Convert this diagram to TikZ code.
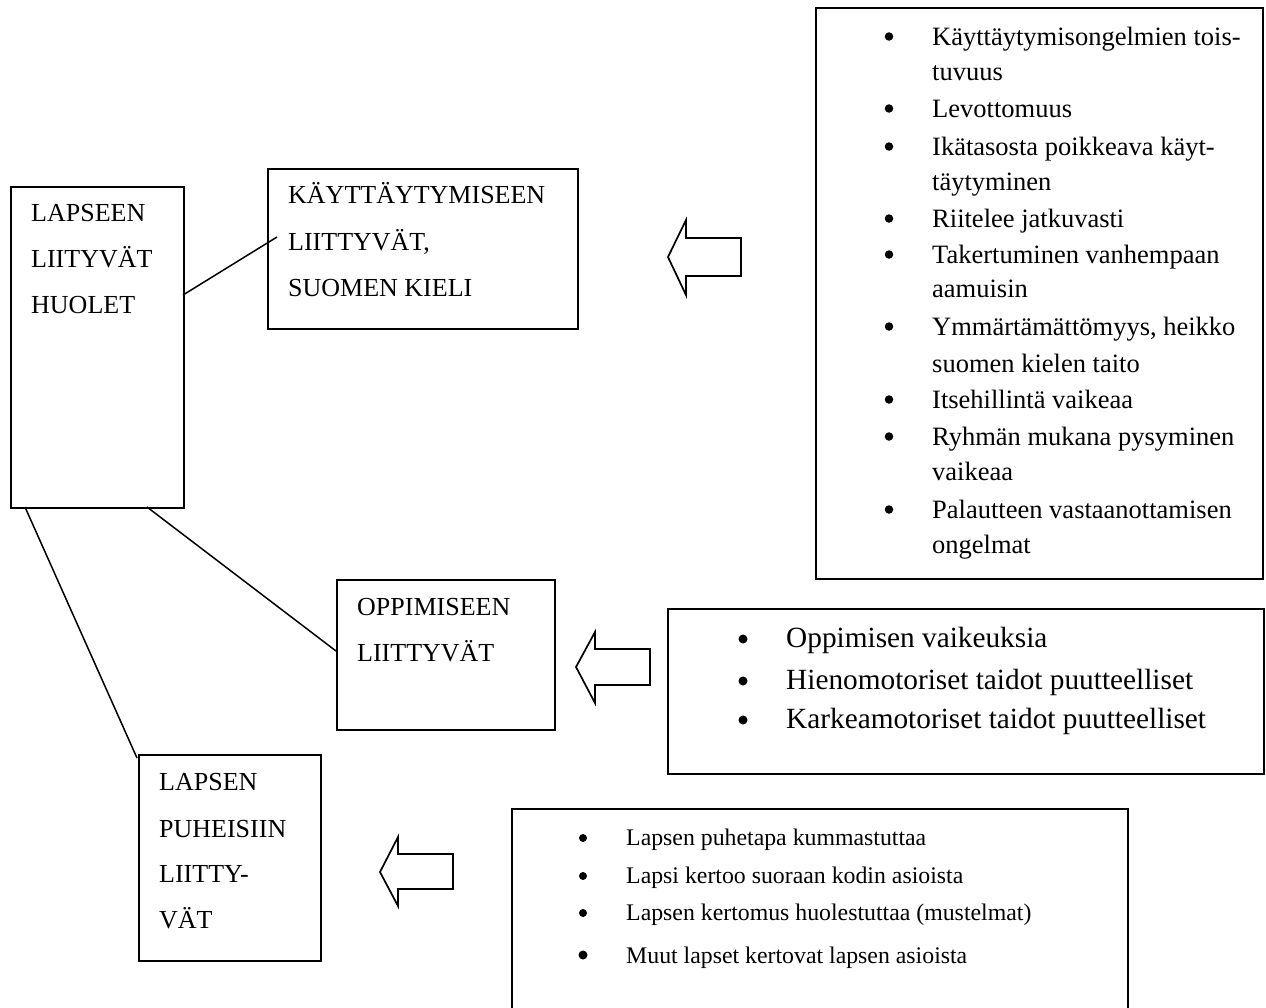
\documentclass[tikz,border=0pt]{standalone}
\usepackage{fontspec}
\setmainfont{Liberation Serif}
\begin{document}
\begin{tikzpicture}[x=1pt,y=-1pt,
  box/.style={draw, line width=1.7pt, inner sep=0pt, anchor=north west},
  conn/.style={line width=1.5pt},
  bigarrow/.style={draw, line width=1.7pt, line join=miter},
  capt/.style={anchor=base west, inner sep=0pt, font=\fontsize{26}{30}\selectfont},
  itemA/.style={anchor=base west, inner sep=0pt, font=\fontsize{26.5}{30}\selectfont},
  itemB/.style={anchor=base west, inner sep=0pt, font=\fontsize{29.3}{34}\selectfont},
  itemC/.style={anchor=base west, inner sep=0pt, font=\fontsize{23.8}{28}\selectfont},
  dot/.style={circle, fill=black, inner sep=0pt, minimum size=#1},
  dot/.default=8.5pt]
\clip (0,0) rectangle (1266,1007);
\fill[white] (0,0) rectangle (1266,1007);

% boxes
\node[box, minimum width=173pt, minimum height=321pt] (main) at (10,186) {};
\node[box, minimum width=310pt, minimum height=160pt] (kbox) at (267,168) {};
\node[box, minimum width=218pt, minimum height=150pt] (obox) at (336,579) {};
\node[box, minimum width=182pt, minimum height=206pt] (pbox) at (138,754) {};
\node[box, minimum width=447pt, minimum height=571pt] (rbox1) at (815,7) {};
\node[box, minimum width=596pt, minimum height=165pt] (rbox2) at (667,608) {};
\node[box, minimum width=616pt, minimum height=260pt] (rbox3) at (511,808) {};

% captions
\node[capt] (m1) at (31,221) {LAPSEEN};
\node[capt] (m2) at (31,267) {LIITYVÄT};
\node[capt] (m3) at (31,313) {HUOLET};

\node[capt] (k1) at (288,203) {KÄYTTÄYTYMISEEN};
\node[capt] (k2) at (288,250) {LIITTYVÄT,};
\node[capt] (k3) at (288,296) {SUOMEN KIELI};

\node[capt] (o1) at (357,615) {OPPIMISEEN};
\node[capt] (o2) at (357,661) {LIITTYVÄT};

\node[capt] (p1) at (159,790) {LAPSEN};
\node[capt] (p2) at (159,837) {PUHEISIIN};
\node[capt] (p3) at (159,882) {LIITTY-};
\node[capt] (p4) at (159,928) {VÄT};

% connectors
\coordinate (c1s) at (183,295);
\coordinate (c1e) at (277,237);
\coordinate (c2s) at (147,507);
\coordinate (c2e) at (336,651);
\coordinate (c3s) at (25,507);
\coordinate (c3e) at (137,758);
\draw[conn] (c1s) -- (c1e);
\draw[conn] (c2s) -- (c2e);
\draw[conn] (c3s) -- (c3e);

% block arrows
\draw[bigarrow] (668,257) -- (686,220) -- (686,238) -- (741,238) -- (741,276) -- (686,276) -- (686,295) -- cycle;
\draw[bigarrow] (576,667) -- (595,632) -- (595,649) -- (650,649) -- (650,685) -- (595,685) -- (595,703) -- cycle;
\draw[bigarrow] (380,872) -- (398,837) -- (398,854) -- (453,854) -- (453,889) -- (398,889) -- (398,906) -- cycle;

% list 1
\foreach \y [count=\i] in {45,117,155,227,263,335,408,445,518}
  \node[dot] (ba\i) at (889,{\y-8.5}) {};
\node[itemA] (a1) at (932,45) {Käyttäytymisongelmien tois-};
\node[itemA] (a2) at (932,80) {tuvuus};
\node[itemA] (a3) at (932,117) {Levottomuus};
\node[itemA] (a4) at (932,155) {Ikätasosta poikkeava käyt-};
\node[itemA] (a5) at (932,190) {täytyminen};
\node[itemA] (a6) at (932,227) {Riitelee jatkuvasti};
\node[itemA] (a7) at (932,263) {Takertuminen vanhempaan};
\node[itemA] (a8) at (932,297) {aamuisin};
\node[itemA] (a9) at (932,335) {Ymmärtämättömyys, heikko};
\node[itemA] (a10) at (932,372) {suomen kielen taito};
\node[itemA] (a11) at (932,408) {Itsehillintä vaikeaa};
\node[itemA] (a12) at (932,445) {Ryhmän mukana pysyminen};
\node[itemA] (a13) at (932,480) {vaikeaa};
\node[itemA] (a14) at (932,518) {Palautteen vastaanottamisen};
\node[itemA] (a15) at (932,553) {ongelmat};

% list 2
\foreach \y [count=\i] in {647,689,728}
  \node[dot=9pt] (bb\i) at (743,{\y-8}) {};
\node[itemB] (b1) at (786,647) {Oppimisen vaikeuksia};
\node[itemB] (b2) at (786,689) {Hienomotoriset taidot puutteelliset};
\node[itemB] (b3) at (786,728) {Karkeamotoriset taidot puutteelliset};

% list 3
\foreach \y [count=\i] in {845,883,920}
  \node[dot=8pt] (bc\i) at (583,{\y-7}) {};
\node[dot=9pt] (bc4) at (583,{963-8}) {};
\node[itemC] (d1) at (626,845) {Lapsen puhetapa kummastuttaa};
\node[itemC] (d2) at (626,883) {Lapsi kertoo suoraan kodin asioista};
\node[itemC] (d3) at (626,920) {Lapsen kertomus huolestuttaa (mustelmat)};
\node[itemC] (d4) at (626,963) {Muut lapset kertovat lapsen asioista};
\end{tikzpicture}
\end{document}
